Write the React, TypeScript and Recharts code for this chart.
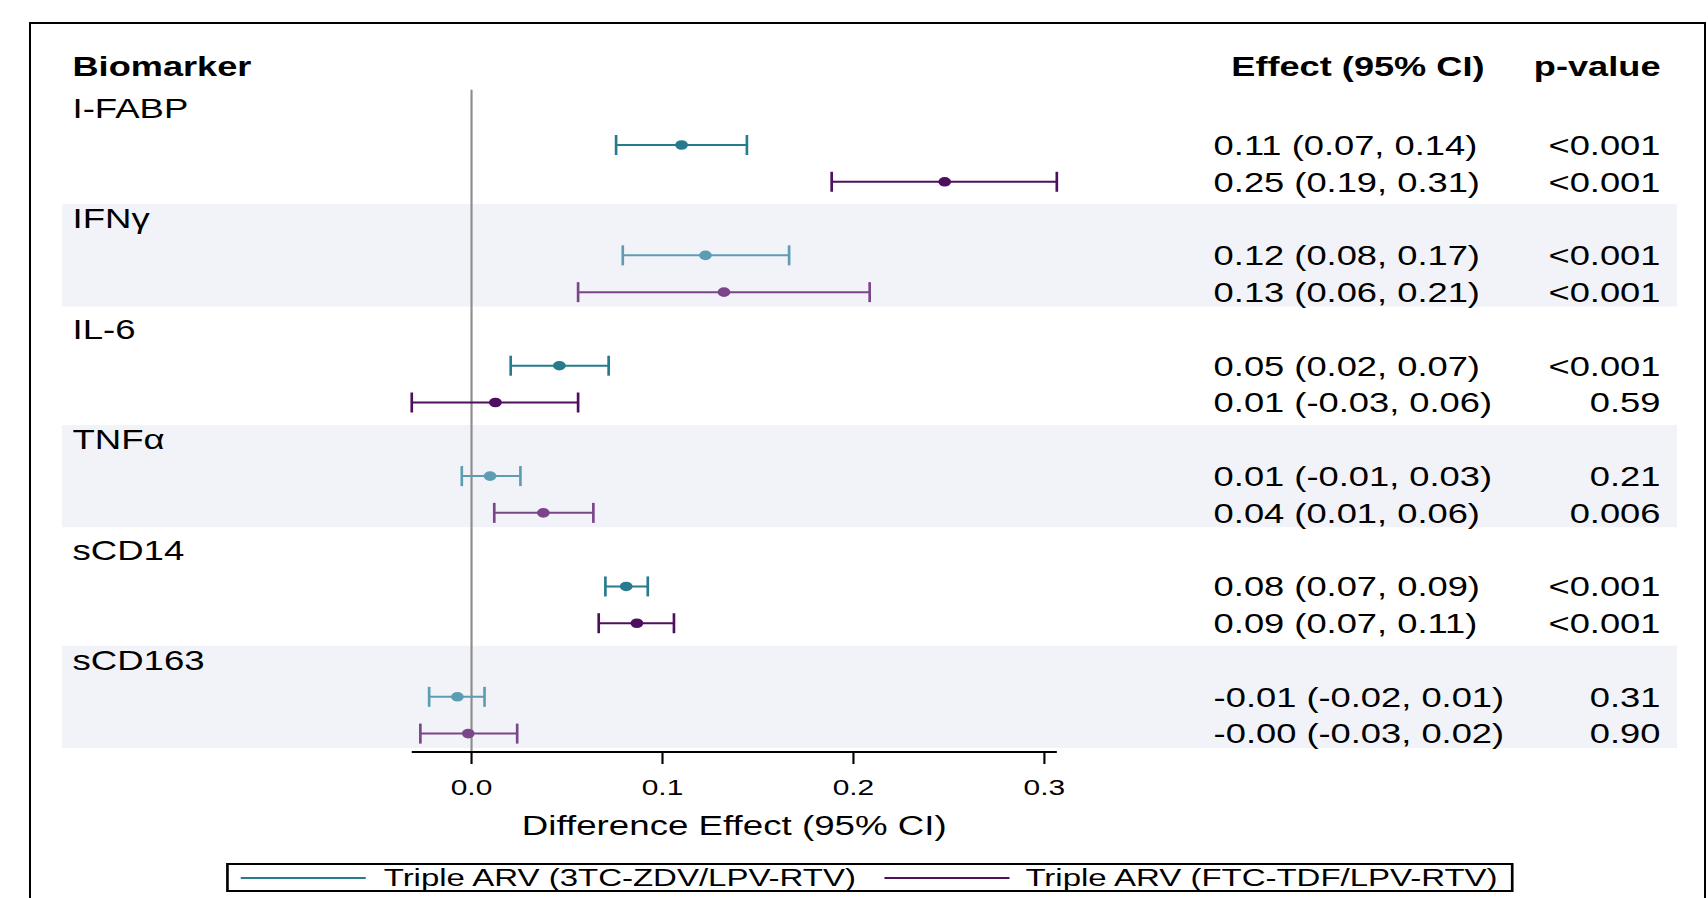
import {
  ScatterChart,
  Scatter,
  XAxis,
  YAxis,
  ErrorBar,
  LabelList,
  ReferenceLine,
  ReferenceArea,
  Customized,
} from "recharts";

// the source figure is stretched sideways, so the chart is drawn narrow and widened
const SX = 1.33;
const W = 1284;
const H = 898;
const FONT = "'Liberation Sans', Arial, sans-serif";

const biomarkers = ["I-FABP", "IFNγ", "IL-6", "TNFα", "sCD14", "sCD163"];

// Triple ARV (3TC-ZDV/LPV-RTV)
const estA = [0.11, 0.1225, 0.046, 0.0097, 0.081, -0.0074];
const lowA = [0.0757, 0.0792, 0.0205, -0.0051, 0.0701, -0.0222];
const highA = [0.1442, 0.1663, 0.0718, 0.0256, 0.0923, 0.0068];
const effectA = [
  "0.11 (0.07, 0.14)",
  "0.12 (0.08, 0.17)",
  "0.05 (0.02, 0.07)",
  "0.01 (-0.01, 0.03)",
  "0.08 (0.07, 0.09)",
  "-0.01 (-0.02, 0.01)",
];
const pA = ["<0.001", "<0.001", "<0.001", "0.21", "<0.001", "0.31"];

// Triple ARV (FTC-TDF/LPV-RTV)
const estB = [0.2478, 0.1322, 0.0125, 0.0376, 0.0866, -0.0017];
const lowB = [0.1886, 0.0558, -0.0313, 0.0119, 0.0666, -0.0268];
const highB = [0.3065, 0.2085, 0.0558, 0.0638, 0.106, 0.0239];
const effectB = [
  "0.25 (0.19, 0.31)",
  "0.13 (0.06, 0.21)",
  "0.01 (-0.03, 0.06)",
  "0.04 (0.01, 0.06)",
  "0.09 (0.07, 0.11)",
  "-0.00 (-0.03, 0.02)",
];
const pB = ["<0.001", "<0.001", "0.59", "0.006", "<0.001", "0.90"];

const xTicks = [0, 0.1, 0.2, 0.3];
const seriesNames = ["Triple ARV (3TC-ZDV/LPV-RTV)", "Triple ARV (FTC-TDF/LPV-RTV)"];

const TEAL = "#267b8e";
const TEAL_LIGHT = "#5d9db1";
const PURPLE = "#4e0f5e";
const PURPLE_LIGHT = "#7a4589";
const BAND = "#f2f3f9";

// each biomarker takes three rows: name, series A, series B
const rowsOf = (
  est: number[],
  low: number[],
  high: number[],
  effect: string[],
  p: string[],
  offset: number
) =>
  est.map((v, g) => ({
    x: v,
    y: g * 3 + offset,
    err: [v - low[g], high[g] - v],
    effect: effect[g],
    p: p[g],
    shaded: g % 2 === 1,
  }));

const rowsA = rowsOf(estA, lowA, highA, effectA, pA, 1);
const rowsB = rowsOf(estB, lowB, highB, effectB, pB, 2);
const xMin = Math.min(...lowA, ...lowB);
const xMax = Math.max(...highA, ...highB);

const labelRows = biomarkers.map((_, g) => g * 3);
const bandRows = biomarkers.map((_, g) => g * 3 + 1).filter((_, g) => g % 2 === 1);

const dot = (color: string) => (p: any) =>
  <circle cx={p.cx} cy={p.cy} r={4.8} fill={color} />;

const NameTick = ({ y, payload }: any) => (
  <text x={54.5} y={y} dy="0.36em" fontSize={27.5} fontFamily={FONT} fill="#000">
    {biomarkers[Math.floor(payload.value / 3)]}
  </text>
);

const cellText = (x: number, anchor: "start" | "end") => (p: any) => (
  <text
    x={x}
    y={p.y + (p.height || 0) / 2}
    dy="0.36em"
    textAnchor={anchor}
    fontSize={27.3}
    fontFamily={FONT}
    fill="#000"
  >
    {p.value}
  </text>
);

const Headers = () => (
  <g fontSize={27.2} fontFamily={FONT} fontWeight="bold" fill="#000">
    <text x={54.5} y={76}>Biomarker</text>
    <text x={1021} y={76} textAnchor="middle">Effect (95% CI)</text>
    <text x={1248.5} y={76} textAnchor="end">p-value</text>
  </g>
);

const series = [
  { data: rowsA.filter((r) => !r.shaded), color: TEAL },
  { data: rowsA.filter((r) => r.shaded), color: TEAL_LIGHT },
  { data: rowsB.filter((r) => !r.shaded), color: PURPLE },
  { data: rowsB.filter((r) => r.shaded), color: PURPLE_LIGHT },
];

export default function App() {
  return (
    <div style={{ position: "absolute", left: 0, top: 0, width: 1708, height: H }}>
      <div
        style={{
          position: "absolute",
          left: 29,
          top: 22,
          width: 1677,
          height: H - 22,
          border: "2px solid #000",
          borderBottom: "none",
          boxSizing: "border-box",
        }}
      />
      <div
        style={{
          position: "absolute",
          left: 0,
          top: 0,
          width: W,
          height: H,
          transform: `scaleX(${SX})`,
          transformOrigin: "0 0",
        }}
      >
        <ScatterChart
          width={W}
          height={H}
          margin={{ top: 89.8, right: 489.4, bottom: 56, left: 0 }}
        >
          {bandRows.map((r) => (
            <ReferenceArea
              key={r}
              y1={r - 1.39}
              y2={r + 1.39}
              ifOverflow="visible"
              shape={(p: any) => (
                <rect x={46.6} y={p.y} width={1214.3} height={p.height} fill={BAND} />
              )}
            />
          ))}
          <XAxis
            type="number"
            dataKey="x"
            domain={[xMin, xMax]}
            allowDataOverflow
            ticks={xTicks}
            tickFormatter={(v: number) => v.toFixed(1)}
            axisLine={{ stroke: "#000", strokeWidth: 2 }}
            tickLine={{ stroke: "#000", strokeWidth: 1.6 }}
            tickSize={12}
            tickMargin={15}
            tick={{ fill: "#000", fontSize: 22.5, fontFamily: FONT }}
            height={90}
            label={{
              value: "Difference Effect (95% CI)",
              position: "insideBottom",
              offset: 7,
              fill: "#000",
              fontSize: 27.6,
              fontFamily: FONT,
            }}
          />
          <YAxis
            type="number"
            dataKey="y"
            domain={[-0.5, 17.5]}
            reversed
            ticks={labelRows}
            interval={0}
            axisLine={false}
            tickLine={false}
            width={309.6}
            tick={<NameTick />}
          />
          <ReferenceLine x={0} stroke="#8c8c8c" strokeWidth={1.6} ifOverflow="visible" />
          {series.map((s, i) => (
            <Scatter
              key={i}
              data={s.data}
              fill={s.color}
              shape={dot(s.color)}
              isAnimationActive={false}
            >
              <ErrorBar
                dataKey="err"
                direction="x"
                width={10}
                stroke={s.color}
                strokeWidth={2}
                isAnimationActive={false}
              />
              <LabelList dataKey="effect" content={cellText(912.5, "start")} />
              <LabelList dataKey="p" content={cellText(1248.5, "end")} />
            </Scatter>
          ))}
          <Customized component={Headers} />
        </ScatterChart>

        {/* legend box */}
        <div
          style={{
            position: "absolute",
            left: 169.5,
            top: 863,
            width: 968,
            height: 29,
            border: "2px solid #000",
            boxSizing: "border-box",
          }}
        />
        {seriesNames.map((name, i) => (
          <div key={name}>
            <div
              style={{
                position: "absolute",
                left: i === 0 ? 181 : 664.5,
                top: 876.5,
                width: 94,
                height: 2,
                background: i === 0 ? TEAL : PURPLE,
              }}
            />
            <div
              style={{
                position: "absolute",
                left: i === 0 ? 288.5 : 771,
                top: 863,
                height: 29,
                lineHeight: "29px",
                fontSize: 24.8,
                fontFamily: FONT,
                color: "#000",
                whiteSpace: "nowrap",
              }}
            >
              {name}
            </div>
          </div>
        ))}
      </div>
    </div>
  );
}
